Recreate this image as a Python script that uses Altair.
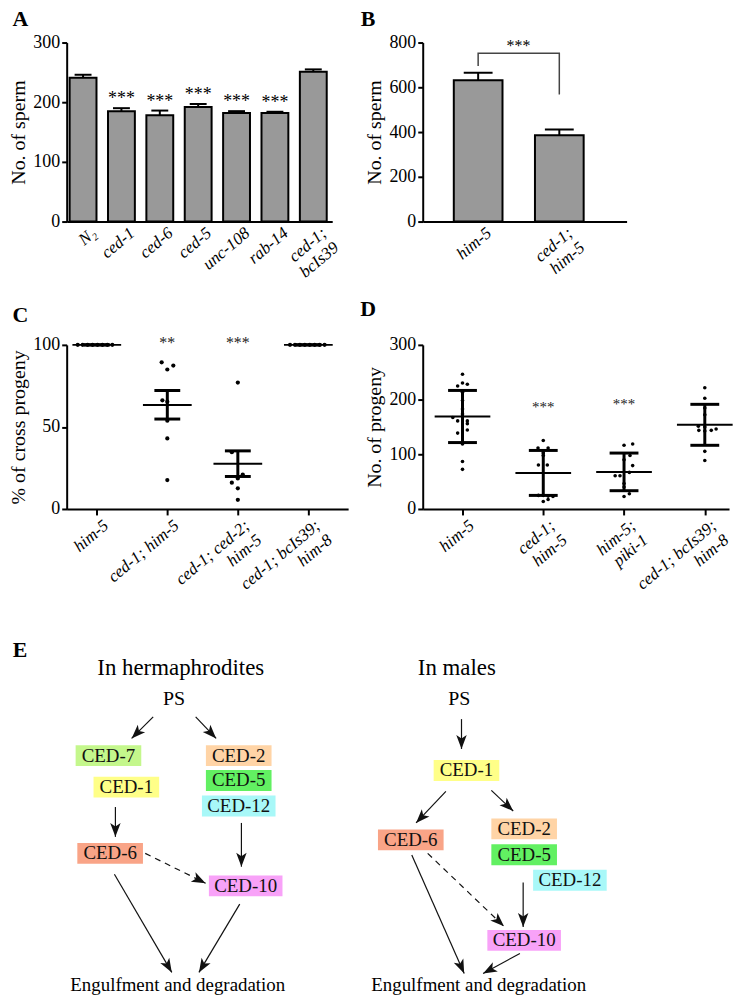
import json
import altair as alt
import pandas as pd

FONT = "Liberation Serif"
BLACK = "#000000"

# ---------------- Panel A: sperm counts in hermaphrodites ----------------
a_strains = ["N₂", "ced-1", "ced-6", "ced-5", "unc-108", "rab-14", "ced-1;|bcIs39"]
a_mean = [241, 185, 178, 192, 182, 182, 251]
a_upper = [246, 190, 186, 197, 185, 184, 255]
a_stars = ["", "***", "***", "***", "***", "***", ""]

# ---------------- Panel B: sperm counts in males ----------------
b_strains = ["him-5", "ced-1;|him-5"]
b_mean = [632, 386]
b_upper = [665, 411]
b_bracket_strain = ["him-5", "him-5", "ced-1;|him-5", "ced-1;|him-5"]
b_bracket_value = [695, 752, 752, 568]
b_star_text = ["***"]

# ---------------- Panel C: % of cross progeny ----------------
c_strains = ["him-5", "ced-1; him-5", "ced-1; ced-2;|him-5", "ced-1; bcIs39;|him-8"]
c_mean = [100, 63.4, 27.6, 100]
c_upper = [100, 72.2, 35.4, 100]
c_lower = [100, 54.8, 19.8, 100]
c_stars = ["", "**", "***", ""]
c_star_value = [98, 98, 98, 98]
c_pt_group = [0] * 8 + [1] * 8 + [2] * 7 + [3] * 8
c_pt_value = ([100] * 8
              + [89.4, 87.4, 85.0, 66.2, 65.4, 53.8, 43.0, 17.6]
              + [77.0, 34.6, 21.0, 18.6, 16.0, 12.6, 5.6]
              + [100] * 8)
c_pt_jitter = ([-0.27, -0.2, -0.13, -0.06, 0.01, 0.08, 0.15, 0.22]
               + [-0.08, 0.085, 0, -0.07, 0, 0, 0, 0]
               + [0, -0.085, 0.07, 0, -0.085, 0, 0]
               + [-0.26, -0.19, -0.12, -0.05, 0.02, 0.09, 0.16, 0.23])

# ---------------- Panel D: No. of progeny ----------------
d_strains = ["him-5", "ced-1;|him-5", "him-5;|piki-1", "ced-1; bcIs39;|him-8"]
d_mean = [169, 65.6, 67.5, 154]
d_upper = [216.7, 107, 102.2, 191.3]
d_lower = [121.4, 24.8, 33.4, 116.4]
d_stars = ["", "***", "***", ""]
d_star_value = [0, 178, 182.7, 0]
d_pt_group = [0] * 17 + [1] * 13 + [2] * 12 + [3] * 12
d_pt_value = ([246.4, 224.8, 230.3, 227.9, 213.6, 198.1, 182.7, 173.4, 167.2, 161.0, 161.0,
               156.0, 138.7, 144.3, 118.9, 86.7, 72.4]
              + [125.1, 111.5, 111.5, 102.2, 97.8, 80.5, 80.5, 24.8, 24.8, 23.5, 22.9, 13.6, 17.3]
              + [116.4, 118.9, 97.8, 89.8, 79.3, 60.7, 60.7, 66.9, 46.4, 40.2, 27.9, 22.9]
              + [221.7, 202.5, 184.5, 172.1, 151.1, 149.8, 143.7, 146.1, 142.4, 143.7, 105.3, 88.5])
d_pt_jitter = ([0, -0.06, 0, 0.06, 0, 0, 0, 0, -0.12, -0.06, 0.06, 0.06, -0.06, 0.06, 0, 0, 0]
               + [0, -0.065, 0.06, 0, 0, 0.05, -0.06, 0, -0.06, 0.06, 0.12, 0, 0.06]
               + [0, 0.107, 0.074, 0, 0.107, -0.11, -0.05, 0.066, 0, 0, 0.066, 0]
               + [0, 0, 0, 0, -0.08, 0, 0.08, 0.14, 0, -0.074, 0, 0])

# ---------------- Panel E: engulfment pathways ----------------
node_names = ["CED-7", "CED-1", "CED-2", "CED-5", "CED-12", "CED-6", "CED-10"]
node_colors = ["#c4f78c", "#ffff88", "#ffd4a6", "#62f062", "#a8f8f8", "#f9a487", "#f8a2f8"]

el_nodes = ["CED-7", "CED-1", "CED-2", "CED-5", "CED-12", "CED-6", "CED-10"]
el_x = [109, 127, 240, 240, 240, 110.7, 247]
el_y = [755, 786.7, 755, 780, 805.7, 853.3, 886]
el_e_x1 = [154, 196.7, 116, 242.7, 146, 115, 241]
el_e_y1 = [716, 716, 806.7, 822.7, 853.3, 874.3, 904.3]
el_e_x2 = [132.3, 217.3, 116, 242.7, 206.7, 172.7, 200]
el_e_y2 = [737.7, 737.7, 836.7, 866.7, 883.3, 973, 973]
el_e_dash = [False, False, False, False, True, False, False]
el_texts = ["In hermaphrodites", "PS", "Engulfment and degradation"]
el_tx = [181.7, 175, 178.7]
el_ty = [666.7, 698.3, 986]
el_tsize = [23, 20, 19]

er_nodes = ["CED-1", "CED-6", "CED-2", "CED-5", "CED-12", "CED-10"]
er_x = [469, 413, 527, 527, 573, 527]
er_y = [770, 839.7, 828.7, 854.7, 880.3, 940.8]
er_e_x1 = [464, 448.3, 494, 526, 430, 414, 522.7]
er_e_y1 = [718.3, 791, 790, 882.7, 853.3, 855, 954]
er_e_x2 = [464, 418.3, 516, 526, 506.7, 466.7, 485.7]
er_e_y2 = [748.3, 822.7, 810.7, 927.3, 926.7, 974, 974]
er_e_dash = [False, False, False, False, True, False, False]
er_texts = ["In males", "PS", "Engulfment and degradation"]
er_tx = [459.3, 461.7, 481.3]
er_ty = [666.7, 698, 986]
er_tsize = [23, 20, 19]

ARROW = "M0,-1L0.75,1L0,0.5L-0.75,1Z"


def y_axis(values, title):
    return alt.Axis(values=values, title=title, grid=False, domainWidth=2, domainColor=BLACK,
                    tickWidth=2, tickSize=5, tickColor=BLACK, labelFontSize=18, labelPadding=2,
                    labelFont=FONT, labelColor=BLACK, titleFont=FONT, titleFontSize=20,
                    titleFontWeight="normal", titleColor=BLACK, titlePadding=4)


def x_axis(label_expr, ticks, values=None, offset=5, padding=3):
    kw = dict(title=None, grid=False, domainWidth=2, domainColor=BLACK, ticks=ticks,
              tickWidth=2, tickSize=6, tickColor=BLACK, labelAngle=-40, labelAlign="right",
              labelBaseline="top", labelFont=FONT, labelFontSize=17, labelFontStyle="italic",
              labelColor=BLACK, labelExpr=label_expr, labelOffset=offset, labelPadding=padding,
              labelOverlap=False, labelLimit=0)
    if values is not None:
        kw["values"] = values
    return alt.Axis(**kw)


def letter(text, px, py):
    return alt.Chart(pd.DataFrame({"t": [text]})).mark_text(
        font=FONT, fontSize=22, fontWeight="bold", align="center", baseline="middle", color=BLACK
    ).encode(text="t:N", x=alt.value(px), y=alt.value(py))


# ---- A ----
dfA = pd.DataFrame({"strain": a_strains, "mean": a_mean, "upper": a_upper, "stars": a_stars})
xA = alt.X("strain:N", sort=a_strains, title=None,
           scale=alt.Scale(paddingInner=0.3, paddingOuter=0.11, align=0.35),
           axis=x_axis("split(datum.label, '|')", False, offset=6))
yA = alt.Y("mean:Q", scale=alt.Scale(domain=[0, 300], nice=False),
           axis=y_axis([0, 100, 200, 300], "No. of sperm"))
bA = alt.Chart(dfA)
A = alt.layer(
    bA.mark_bar(color="#999999", stroke=BLACK, strokeWidth=2).encode(x=xA, y=yA),
    bA.mark_rule(color=BLACK, strokeWidth=2).encode(x=xA, y="mean:Q", y2="upper:Q"),
    bA.mark_tick(color=BLACK, thickness=2, size=17, opacity=1).encode(x=xA, y="upper:Q"),
    bA.mark_text(font=FONT, fontSize=18, baseline="alphabetic", dy=-4, color=BLACK).encode(
        x=xA, y="upper:Q", text="stars:N"),
    letter("A", -46.5, -24),
).properties(width=267, height=180)

# ---- B ----
dfB = pd.DataFrame({"strain": b_strains, "mean": b_mean, "upper": b_upper})
dfBr = pd.DataFrame({"strain": b_bracket_strain, "v": b_bracket_value, "o": [0, 1, 2, 3]})
dfBs = pd.DataFrame({"strain": [b_strains[1]], "v": [b_bracket_value[1]], "t": b_star_text})
xB = alt.X("strain:N", sort=b_strains, title=None,
           scale=alt.Scale(paddingInner=0.4, paddingOuter=0.456, align=0.42),
           axis=x_axis("split(datum.label, '|')", False, offset=6))
yB = alt.Y("mean:Q", scale=alt.Scale(domain=[0, 800], nice=False),
           axis=y_axis([0, 200, 400, 600, 800], "No. of sperm"))
bB = alt.Chart(dfB)
B = alt.layer(
    bB.mark_bar(color="#999999", stroke=BLACK, strokeWidth=2).encode(x=xB, y=yB),
    bB.mark_rule(color=BLACK, strokeWidth=2).encode(x=xB, y="mean:Q", y2="upper:Q"),
    bB.mark_tick(color=BLACK, thickness=2, size=29, opacity=1).encode(x=xB, y="upper:Q"),
    alt.Chart(dfBr).mark_line(color="#444444", strokeWidth=1.5).encode(
        x=xB, y=alt.Y("v:Q"), order="o:O"),
    alt.Chart(dfBs).mark_text(font=FONT, fontSize=16, baseline="alphabetic", dx=-41, dy=-2,
                              color=BLACK).encode(x=xB, y="v:Q", text="t:N"),
    letter("B", -55, -24),
).properties(width=205, height=180)


# ---- C & D (scatter with mean and error) ----
def scatter_panel(strains, means, uppers, lowers, stars, star_vals, pg, pv, pj, xdom, ydom,
                  yvals, ytitle, width, height, mean_size, cap_size, dot_size, star_size, let, lx, ly):
    expr = "split(" + json.dumps(strains) + "[datum.value], '|')"
    sx = alt.Scale(domain=xdom, nice=False, zero=False)
    sy = alt.Scale(domain=ydom, nice=False)
    ax = x_axis(expr, True, values=[0, 1, 2, 3], offset=4, padding=2)
    ay = y_axis(yvals, ytitle)

    def X(f):
        return alt.X(f, scale=sx, axis=ax, title=None)

    def Y(f):
        return alt.Y(f, scale=sy, axis=ay, title=ytitle)

    pts = pd.DataFrame({"g": pg, "v": pv, "j": pj})
    summ = pd.DataFrame({"g": [0, 1, 2, 3], "mean": means, "upper": uppers, "lower": lowers,
                         "stars": stars, "sv": star_vals})
    bs = alt.Chart(summ)
    return alt.layer(
        alt.Chart(pts).transform_calculate(xp="datum.g + datum.j").mark_circle(
            size=dot_size, color=BLACK, opacity=1).encode(x=X("xp:Q"), y=Y("v:Q")),
        bs.mark_rule(color=BLACK, strokeWidth=3).encode(x=X("g:Q"), y=Y("lower:Q"), y2="upper:Q"),
        bs.mark_tick(orient="horizontal", color=BLACK, thickness=3, size=cap_size, opacity=1).encode(
            x=X("g:Q"), y=Y("upper:Q")),
        bs.mark_tick(orient="horizontal", color=BLACK, thickness=3, size=cap_size, opacity=1).encode(
            x=X("g:Q"), y=Y("lower:Q")),
        bs.mark_tick(orient="horizontal", color=BLACK, thickness=2, size=mean_size, opacity=1).encode(
            x=X("g:Q"), y=Y("mean:Q")),
        bs.mark_text(font=FONT, fontSize=star_size, baseline="alphabetic", color="#222222").encode(
            x=X("g:Q"), y=Y("sv:Q"), text="stars:N"),
        letter(let, lx, ly),
    ).properties(width=width, height=height)


C = scatter_panel(c_strains, c_mean, c_upper, c_lower, c_stars, c_star_value,
                  c_pt_group, c_pt_value, c_pt_jitter, [-0.427, 3.564], [0, 100], [0, 50, 100],
                  "% of cross progeny", 283, 165, 49, 26, 18, 16, "C", -46.5, -30)
D = scatter_panel(d_strains, d_mean, d_upper, d_lower, d_stars, d_star_value,
                  d_pt_group, d_pt_value, d_pt_jitter, [-0.4926, 3.300], [0, 300],
                  [0, 100, 200, 300], "No. of progeny", 308, 165, 56, 29, 13, 15, "D", -55, -36)


# ---- E diagrams ----
def diagram(nodes, nx, ny, ex1, ey1, ex2, ey2, edash, texts, tx, ty, tsize, xdom, ydom,
            width, height, extra_letter=False):
    sx = alt.Scale(domain=xdom, nice=False, zero=False)
    sy = alt.Scale(domain=ydom, nice=False, zero=False, reverse=True)

    def X(f):
        return alt.X(f, scale=sx, axis=None)

    def Y(f):
        return alt.Y(f, scale=sy, axis=None)

    nd = pd.DataFrame({"label": nodes, "x": nx, "y": ny})
    ed = pd.DataFrame({"x1": ex1, "y1": ey1, "x2": ex2, "y2": ey2, "dash": edash})
    td = pd.DataFrame({"t": texts, "x": tx, "y": ty, "fs": tsize})
    nodes_c = alt.Chart(nd).transform_calculate(
        w="length(datum.label) > 5 ? 74 : 66",
        xa="datum.x - datum.w / 2", xb="datum.x + datum.w / 2",
        ya="datum.y - 10.5", yb="datum.y + 10.5")
    edges_c = alt.Chart(ed)
    layers = [
        nodes_c.mark_rect(opacity=1).encode(
            x=X("xa:Q"), x2="xb:Q", y=Y("ya:Q"), y2="yb:Q",
            color=alt.Color("label:N", scale=alt.Scale(domain=node_names, range=node_colors),
                            legend=None)),
        nodes_c.mark_text(font=FONT, fontSize=19, color="#111111", baseline="middle").encode(
            x=X("x:Q"), y=Y("y:Q"), text="label:N"),
        edges_c.transform_filter("!datum.dash").mark_rule(color="#111111", strokeWidth=1.2).encode(
            x=X("x1:Q"), y=Y("y1:Q"), x2="x2:Q", y2="y2:Q"),
        edges_c.transform_filter("datum.dash").mark_rule(color="#111111", strokeWidth=1.2,
                                                         strokeDash=[6, 5]).encode(
            x=X("x1:Q"), y=Y("y1:Q"), x2="x2:Q", y2="y2:Q"),
        edges_c.transform_calculate(
            len="sqrt(pow(datum.x2 - datum.x1, 2) + pow(datum.y2 - datum.y1, 2))",
            hx="datum.x2 - 7 * (datum.x2 - datum.x1) / datum.len",
            hy="datum.y2 - 7 * (datum.y2 - datum.y1) / datum.len",
            ang="(atan2(datum.x2 - datum.x1, datum.y1 - datum.y2) * 180 / PI + 360) % 360",
        ).mark_point(shape=ARROW, filled=True, size=196, color="#111111", opacity=1,
                     strokeWidth=0).encode(
            x=X("hx:Q"), y=Y("hy:Q"), angle=alt.Angle("ang:Q", scale=None)),
        alt.Chart(td).mark_text(font=FONT, color=BLACK, baseline="middle").encode(
            x=X("x:Q"), y=Y("y:Q"), text="t:N", size=alt.Size("fs:Q", scale=None)),
    ]
    if extra_letter:
        layers.append(alt.Chart(pd.DataFrame({"t": ["E"], "x": [20], "y": [649]})).mark_text(
            font=FONT, fontSize=22, fontWeight="bold", baseline="middle", color=BLACK).encode(
            x=X("x:Q"), y=Y("y:Q"), text="t:N"))
    return alt.layer(*layers).properties(width=width, height=height)


EL = diagram(el_nodes, el_x, el_y, el_e_x1, el_e_y1, el_e_x2, el_e_y2, el_e_dash,
             el_texts, el_tx, el_ty, el_tsize, [67, 350], [631, 977], 283, 346, True)
ER = diagram(er_nodes, er_x, er_y, er_e_x1, er_e_y1, er_e_x2, er_e_y2, er_e_dash,
             er_texts, er_tx, er_ty, er_tsize, [425, 733], [631, 977], 308, 346)

chart = alt.concat(
    A, B, C, D, EL, ER, columns=2, spacing={"row": 124, "column": 75},
    bounds="flush", align="each"
).configure_view(stroke="transparent").properties(
    padding={"left": 0, "top": -4, "right": 0, "bottom": 0})

chart.save("out.html", embed_options={"renderer": "svg", "actions": False})
